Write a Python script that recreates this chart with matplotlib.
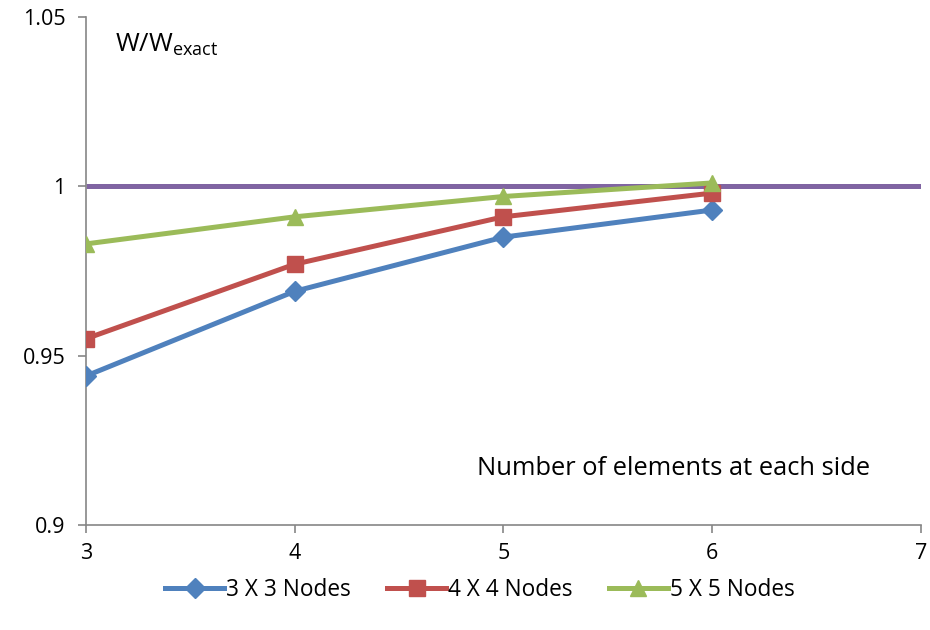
import matplotlib
matplotlib.use("Agg")
import matplotlib.pyplot as plt

plt.rcParams['font.family'] = ['Open Sans', 'DejaVu Sans']

elements = [3, 4, 5, 6]
nodes3 = [0.944, 0.969, 0.985, 0.993]
nodes4 = [0.955, 0.977, 0.991, 0.998]
nodes5 = [0.983, 0.991, 0.997, 1.001]
exact_x = [3, 7]
exact_y = [1.0, 1.0]

fig = plt.figure(figsize=(9.3, 6.3), dpi=100)
ax = fig.add_axes([0.0925, 0.1667, 0.8975, 0.8063])

lw = 3.6
ax.plot(exact_x, exact_y, color='#8064A2', lw=lw, solid_capstyle='butt', zorder=2)
ax.plot(elements, nodes3, color='#4F81BD', lw=lw, marker='D', ms=10,
        label='3 X 3 Nodes', zorder=3)
ax.plot(elements, nodes4, color='#C0504D', lw=lw, marker='s', ms=11,
        label='4 X 4 Nodes', zorder=3)
ax.plot(elements, nodes5, color='#9BBB59', lw=lw, marker='^', ms=12,
        label='5 X 5 Nodes', zorder=3)

ax.set_xlim(3, 7)
ax.set_ylim(0.9, 1.05)
ax.set_xticks([3, 4, 5, 6, 7])
ax.set_yticks([0.9, 0.95, 1.0, 1.05])
ax.set_yticklabels(['0.9', '0.95', '1', '1.05'])

for s in ('top', 'right'):
    ax.spines[s].set_visible(False)
for s in ('left', 'bottom'):
    ax.spines[s].set_color('#868686')
    ax.spines[s].set_linewidth(1.2)
ax.tick_params(axis='both', direction='out', length=6, width=1.2,
               color='#868686', labelsize=15.5, labelcolor='black')
ax.tick_params(axis='x', pad=7)
ax.tick_params(axis='y', pad=9)

ax.text(0.035, 0.945, r'W/W$_{\mathregular{exact}}$', transform=ax.transAxes,
        fontsize=18.5, ha='left', va='center')
ax.text(0.939, 0.112, 'Number of elements at each side', transform=ax.transAxes,
        fontsize=18.4, ha='right', va='center')

ax.legend(loc='upper center', bbox_to_anchor=(0.472, -0.065), ncol=3,
          frameon=False, fontsize=16.3, handlelength=2.6, handletextpad=0.1,
          columnspacing=1.6)

fig.savefig('out.png', dpi=100)
